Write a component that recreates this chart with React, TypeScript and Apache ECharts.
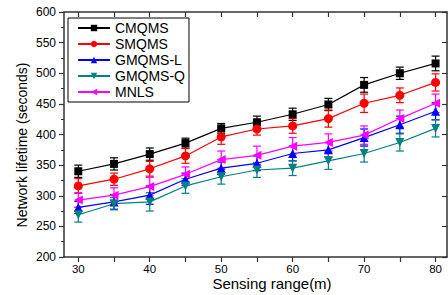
import React, { useEffect, useRef } from "react";
import * as echarts from "echarts";

const ranges = [30, 35, 40, 45, 50, 55, 60, 65, 70, 75, 80];
const cmqms = [340, 352, 368, 386, 410, 420, 433, 449, 481, 500, 516];
const smqms = [316, 327, 344, 365, 396, 409, 414, 426, 451, 464, 485];
const gmqmsL = [281, 290, 301, 327, 345, 353, 369, 375, 395, 416, 438];
const gmqmsQ = [269, 287, 290, 316, 331, 342, 345, 357, 369, 387, 410];
const mnls = [293, 301, 315, 335, 359, 366, 381, 387, 399, 426, 451];

const cmqmsErr = [10, 10, 10, 8, 8, 10, 10, 10, 12, 10, 12];
const smqmsErr = [12, 10, 12, 12, 12, 10, 12, 14, 15, 12, 14];
const gmqmsLErr = [10, 12, 15, 10, 10, 12, 12, 12, 14, 14, 14];
const gmqmsQErr = [12, 10, 15, 12, 12, 12, 12, 14, 14, 14, 14];
const mnlsErr = [12, 12, 15, 12, 14, 15, 14, 14, 15, 14, 15];

const xLabels = [30, 40, 50, 60, 70, 80];
const xTicks = [30, 35, 40, 45, 50, 55, 60, 65, 70, 75, 80];

const seriesDefs = [
  { name: "CMQMS", data: cmqms, err: cmqmsErr, color: "#000000", symbol: "rect", rotate: 0 },
  { name: "SMQMS", data: smqms, err: smqmsErr, color: "#ff0000", symbol: "circle", rotate: 0 },
  { name: "GMQMS-L", data: gmqmsL, err: gmqmsLErr, color: "#0000ff", symbol: "triangle", rotate: 0 },
  { name: "GMQMS-Q", data: gmqmsQ, err: gmqmsQErr, color: "#008080", symbol: "triangle", rotate: 180 },
  { name: "MNLS", data: mnls, err: mnlsErr, color: "#ff00ff", symbol: "triangle", rotate: 90 },
];

const FONT = "'Liberation Sans', Arial, sans-serif";

export default function App() {
  const ref = useRef<HTMLDivElement>(null);
  useEffect(() => {
    if (!ref.current) return;
    const chart = echarts.init(ref.current, null, { renderer: "svg" });
    const series: any[] = [];
    seriesDefs.forEach((s) => {
      series.push({
        type: "custom",
        name: s.name + "-err",
        xAxisIndex: 0,
        yAxisIndex: 0,
        data: ranges.map((x, i) => [x, s.data[i] - s.err[i], s.data[i] + s.err[i]]),
        silent: true,
        z: 1,
        renderItem: (params: any, api: any) => {
          const lo = api.coord([api.value(0), api.value(1)]);
          const hi = api.coord([api.value(0), api.value(2)]);
          const w = 4;
          const style = { stroke: s.color, lineWidth: 1.2, fill: "none" };
          return {
            type: "group",
            children: [
              { type: "line", shape: { x1: lo[0], y1: lo[1], x2: hi[0], y2: hi[1] }, style },
              { type: "line", shape: { x1: lo[0] - w, y1: lo[1], x2: lo[0] + w, y2: lo[1] }, style },
              { type: "line", shape: { x1: hi[0] - w, y1: hi[1], x2: hi[0] + w, y2: hi[1] }, style },
            ],
          };
        },
      });
      series.push({
        type: "line",
        name: s.name,
        xAxisIndex: 0,
        yAxisIndex: 0,
        data: ranges.map((x, i) => [x, s.data[i]]),
        symbol: s.symbol,
        symbolRotate: s.rotate,
        symbolSize: s.symbol === "rect" ? 8 : 9,
        showAllSymbol: true,
        lineStyle: { color: s.color, width: 1.2 },
        itemStyle: { color: s.color },
        z: 3,
      });
    });

    chart.setOption({
      animation: false,
      textStyle: { fontFamily: FONT },
      grid: { left: 64, right: 1, top: 12, bottom: 38, containLabel: false },
      legend: {
        orient: "vertical",
        left: 68,
        top: 18,
        data: seriesDefs.map((s) => s.name),
        itemWidth: 32,
        itemHeight: 8,
        itemGap: 2,
        padding: [3, 4, 3, 9],
        borderColor: "#000",
        borderWidth: 1,
        backgroundColor: "#fff",
        textStyle: { fontSize: 14, fontFamily: FONT, color: "#000", lineHeight: 13 },
        selectedMode: false,
      },
      xAxis: [
        {
          type: "value",
          min: 28,
          max: 81.6,
          axisLine: { lineStyle: { color: "#333", width: 1.5 } },
          axisTick: { show: true, inside: false, length: 5, customValues: xTicks, lineStyle: { color: "#333", width: 1.2 } },
          axisLabel: { customValues: xLabels, fontSize: 11.5, lineHeight: 12, color: "#000", margin: 6, fontFamily: FONT },
          splitLine: { show: false },
        },
        {
          type: "value",
          position: "top",
          min: 28,
          max: 81.6,
          axisLine: { show: true, lineStyle: { color: "#333", width: 1.5 } },
          axisTick: { show: true, inside: true, length: 5, customValues: xTicks, lineStyle: { color: "#333", width: 1.2 } },
          axisLabel: { show: false },
          splitLine: { show: false },
        },
      ],
      yAxis: [
        {
          type: "value",
          min: 200,
          max: 600,
          interval: 50,
          axisLine: { show: true, lineStyle: { color: "#333", width: 1.5 } },
          axisTick: { show: true, inside: false, length: 5, lineStyle: { color: "#333", width: 1.2 } },
          minorTick: { show: true, splitNumber: 2, length: 3, lineStyle: { color: "#333", width: 1 } },
          axisLabel: { fontSize: 12, color: "#000", margin: 8, fontFamily: FONT },
          splitLine: { show: false },
        },
        {
          type: "value",
          position: "right",
          min: 200,
          max: 600,
          interval: 50,
          axisLine: { show: true, lineStyle: { color: "#333", width: 1.5 } },
          axisTick: { show: true, inside: true, length: 5, lineStyle: { color: "#333", width: 1.2 } },
          axisLabel: { show: false },
          splitLine: { show: false },
        },
      ],
      graphic: [
        {
          type: "text",
          x: 272,
          y: 283.5,
          style: {
            text: "Sensing range(m)",
            font: "15px " + FONT,
            fill: "#000",
            textAlign: "center",
            textVerticalAlign: "middle",
          },
        },
        {
          type: "text",
          x: 22,
          y: 145,
          rotation: Math.PI / 2,
          style: {
            text: "Network lifetime (seconds)",
            font: "14px " + FONT,
            fill: "#000",
            textAlign: "center",
            textVerticalAlign: "middle",
          },
        },
      ],
      series,
    });
    return () => chart.dispose();
  }, []);
  return <div ref={ref} style={{ width: 448, height: 295, position: "absolute", left: 0, top: 0 }} />;
}
